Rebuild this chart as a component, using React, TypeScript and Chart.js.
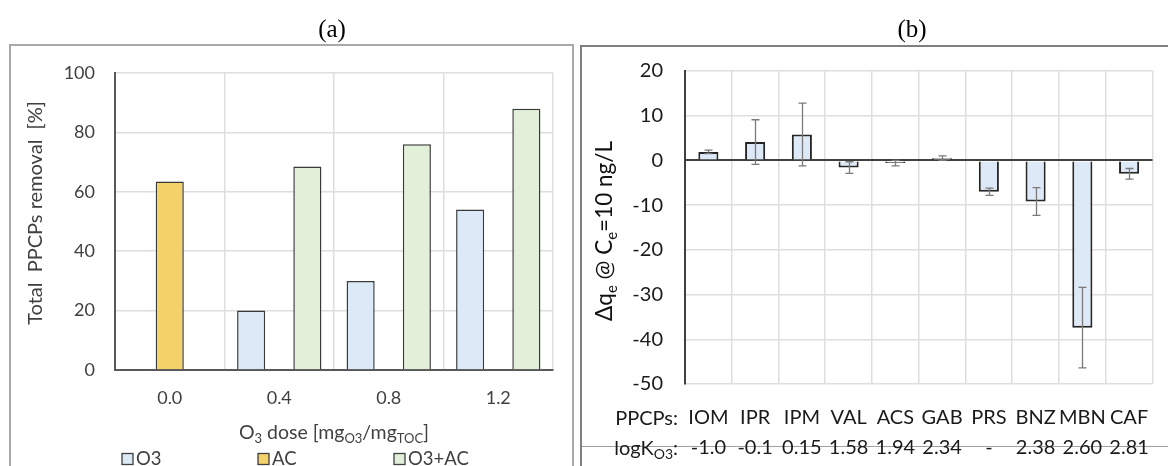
import React, { useEffect, useRef } from "react";
import { Chart, registerables } from "chart.js";
Chart.register(...registerables);

const FONT = "Lato, 'Open Sans', sans-serif";
const SERIF = "'Liberation Serif', 'Times New Roman', serif";

// ---------- Panel (a) data ----------
const doseLabels = ["0.0", "0.4", "0.8", "1.2"];
const o3Removal = [null, 20, 30, 54];
const acRemoval = [63.5, null, null, null];
const o3acRemoval = [null, 68.5, 76, 88];
const seriesNames = ["O3", "AC", "O3+AC"];

// ---------- Panel (b) data ----------
const ppcps = ["IOM", "IPR", "IPM", "VAL", "ACS", "GAB", "PRS", "BNZ", "MBN", "CAF"];
const logKO3 = ["-1.0", "-0.1", "0.15", "1.58", "1.94", "2.34", "-", "2.38", "2.60", "2.81"];
const deltaQ = [1.9, 4.1, 5.8, -1.6, -0.6, 0.5, -7.0, -9.2, -37.4, -3.0];
const deltaQErr = [0.4, 5.0, 7.0, 1.3, 0.6, 0.5, 0.8, 3.1, 9.0, 1.2];

type Part = { t: string; sub?: boolean };

function drawRich(
  ctx: CanvasRenderingContext2D,
  parts: Part[],
  x: number,
  y: number,
  size: number,
  align: "left" | "center" | "right",
  color: string
) {
  const mainF = `${size}px ${FONT}`;
  const subF = `${Math.round(size * 0.68)}px ${FONT}`;
  let total = 0;
  const widths = parts.map((p) => {
    ctx.font = p.sub ? subF : mainF;
    const w = ctx.measureText(p.t).width;
    total += w;
    return w;
  });
  let cx = align === "center" ? x - total / 2 : align === "right" ? x - total : x;
  const base = y + size * 0.35;
  ctx.fillStyle = color;
  ctx.textAlign = "left";
  ctx.textBaseline = "alphabetic";
  parts.forEach((p, i) => {
    ctx.font = p.sub ? subF : mainF;
    ctx.fillText(p.t, cx, p.sub ? base + size * 0.22 : base);
    cx += widths[i];
  });
}

const panelAPlugin = {
  id: "panelA",
  afterDraw(chart: any) {
    const ctx: CanvasRenderingContext2D = chart.ctx;
    ctx.save();
    ctx.font = `25px ${SERIF}`;
    ctx.fillStyle = "#000";
    ctx.textAlign = "center";
    ctx.textBaseline = "middle";
    ctx.fillText("(a)", 332, 30);
    ctx.strokeStyle = "#a9a9a9";
    ctx.lineWidth = 2;
    ctx.strokeRect(10, 45, 563, 440);
    ctx.translate(35, 213);
    ctx.rotate(-Math.PI / 2);
    drawRich(ctx, [{ t: "Total  PPCPs removal  [%]" }], 0, 0, 20, "center", "#404040");
    ctx.setTransform(1, 0, 0, 1, 0, 0);
    const ca = chart.chartArea;
    drawRich(
      ctx,
      [{ t: "O" }, { t: "3", sub: true }, { t: " dose [mg" }, { t: "O3", sub: true }, { t: "/mg" }, { t: "TOC", sub: true }, { t: "]" }],
      (ca.left + ca.right) / 2,
      432,
      19.5,
      "center",
      "#404040"
    );
    chart.data.datasets.forEach((ds: any, i: number) => {
      const bx = 122 + i * 136;
      const by = 459;
      ctx.fillStyle = ds.backgroundColor;
      ctx.fillRect(bx, by - 5.5, 11, 11);
      ctx.strokeStyle = "#404040";
      ctx.lineWidth = 1.3;
      ctx.strokeRect(bx, by - 5.5, 11, 11);
      drawRich(ctx, [{ t: ds.label }], bx + 14, by, 18.5, "left", "#404040");
    });
    ctx.restore();
  },
};

const panelBPlugin = {
  id: "panelB",
  beforeDraw(chart: any) {
    const ctx: CanvasRenderingContext2D = chart.ctx;
    ctx.save();
    ctx.strokeStyle = "#a0a0a0";
    ctx.lineWidth = 1;
    ctx.beginPath();
    ctx.moveTo(3, 446.5);
    ctx.lineTo(590, 446.5);
    ctx.stroke();
    ctx.restore();
  },
  afterDatasetsDraw(chart: any) {
    const ctx: CanvasRenderingContext2D = chart.ctx;
    const meta = chart.getDatasetMeta(0);
    const ys = chart.scales.y;
    ctx.save();
    ctx.strokeStyle = "#7a7a7a";
    ctx.lineWidth = 1.3;
    meta.data.forEach((bar: any, i: number) => {
      const v = deltaQ[i];
      const e = deltaQErr[i];
      const yt = ys.getPixelForValue(v + e);
      const yb = ys.getPixelForValue(v - e);
      const x = Math.round(bar.x) + 0.5;
      ctx.beginPath();
      ctx.moveTo(x, yt);
      ctx.lineTo(x, yb);
      ctx.moveTo(x - 4, yt);
      ctx.lineTo(x + 4, yt);
      ctx.moveTo(x - 4, yb);
      ctx.lineTo(x + 4, yb);
      ctx.stroke();
    });
    ctx.restore();
  },
  afterDraw(chart: any) {
    const ctx: CanvasRenderingContext2D = chart.ctx;
    ctx.save();
    ctx.font = `25px ${SERIF}`;
    ctx.fillStyle = "#000";
    ctx.textAlign = "center";
    ctx.textBaseline = "middle";
    ctx.fillText("(b)", 334, 30);
    ctx.strokeStyle = "#808080";
    ctx.lineWidth = 2;
    ctx.beginPath();
    ctx.moveTo(3, 466);
    ctx.lineTo(3, 46);
    ctx.lineTo(590, 46);
    ctx.stroke();
    ctx.translate(26, 231);
    ctx.rotate(-Math.PI / 2);
    drawRich(
      ctx,
      [{ t: "Δq" }, { t: "e", sub: true }, { t: " @ C" }, { t: "e", sub: true }, { t: "=10 ng/L" }],
      0,
      0,
      22.5,
      "center",
      "#111"
    );
    ctx.setTransform(1, 0, 0, 1, 0, 0);
    drawRich(ctx, [{ t: "PPCPs:" }], 100, 418, 20, "right", "#1a1a1a");
    drawRich(ctx, [{ t: "logK" }, { t: "O3", sub: true }, { t: ":" }], 100, 448, 20, "right", "#1a1a1a");
    ctx.restore();
  },
};

export default function App() {
  const refA = useRef<HTMLCanvasElement>(null);
  const refB = useRef<HTMLCanvasElement>(null);

  useEffect(() => {
    const lightGrid = "#dedede";
    const chartA = new Chart(refA.current as HTMLCanvasElement, {
      type: "bar",
      data: {
        labels: doseLabels,
        datasets: [
          { label: seriesNames[0], data: o3Removal, backgroundColor: "#dce9f6", borderColor: "#3a3a3a", borderWidth: 1.5 },
          { label: seriesNames[1], data: acRemoval, backgroundColor: "#f4d26a", borderColor: "#3a3a3a", borderWidth: 1.5 },
          { label: seriesNames[2], data: o3acRemoval, backgroundColor: "#e2efd9", borderColor: "#3a3a3a", borderWidth: 1.5 },
        ] as any,
      },
      options: {
        responsive: false,
        animation: false,
        layout: { padding: { left: 10, right: 25, top: 73, bottom: 0 } },
        datasets: { bar: { categoryPercentage: 0.77, barPercentage: 1 } },
        plugins: { legend: { display: false }, tooltip: { enabled: false } },
        scales: {
          x: {
            grid: { color: lightGrid, lineWidth: 1.5, drawTicks: false, offset: true },
            border: { color: "#595959", width: 2 },
            ticks: { font: { size: 18, family: FONT }, color: "#404040", padding: 17, maxRotation: 0, minRotation: 0, autoSkip: false },
            afterFit: (s: any) => {
              s.height = 96;
            },
          },
          y: {
            min: 0,
            max: 100,
            ticks: { stepSize: 20, font: { size: 18, family: FONT }, color: "#404040", padding: 20 },
            grid: { color: lightGrid, lineWidth: 1.5, drawTicks: false },
            border: { color: "#595959", width: 2 },
            afterFit: (s: any) => {
              s.width = 105;
            },
          },
        },
      } as any,
      plugins: [panelAPlugin],
    });

    const chartB = new Chart(refB.current as HTMLCanvasElement, {
      type: "bar",
      data: {
        labels: ppcps.map((p, i) => [p, logKO3[i]]),
        datasets: [
          {
            label: "Δqe",
            data: deltaQ,
            backgroundColor: "#dde9f6",
            borderColor: "#262626",
            borderWidth: 2,
            categoryPercentage: 1,
            barPercentage: 0.43,
          },
        ],
      },
      options: {
        responsive: false,
        animation: false,
        layout: { padding: { left: 0, right: 3, top: 71, bottom: 0 } },
        plugins: { legend: { display: false }, tooltip: { enabled: false } },
        scales: {
          x: {
            grid: { color: lightGrid, lineWidth: 1.5, drawTicks: false, offset: true },
            border: { display: false },
            ticks: {
              font: { size: 20, family: FONT, lineHeight: 1.5 },
              color: "#1a1a1a",
              padding: 19,
              maxRotation: 0,
              minRotation: 0,
              autoSkip: false,
            },
            afterFit: (s: any) => {
              s.height = 82;
            },
          },
          y: {
            min: -50,
            max: 20,
            ticks: { stepSize: 10, font: { size: 20, family: FONT }, color: "#1a1a1a", padding: 22 },
            grid: {
              drawTicks: false,
              color: (c: any) => (c.tick && c.tick.value === 0 ? "#404040" : lightGrid),
              lineWidth: (c: any) => (c.tick && c.tick.value === 0 ? 2 : 1.5),
            },
            border: { color: "#404040", width: 2 },
            afterFit: (s: any) => {
              s.width = 107;
            },
          },
        },
      } as any,
      plugins: [panelBPlugin],
    });

    return () => {
      chartA.destroy();
      chartB.destroy();
    };
  }, []);

  return (
    <div style={{ position: "absolute", left: 0, top: 0, width: 1168, height: 466, background: "#fff", overflow: "hidden" }}>
      <canvas ref={refA} width={578} height={466} style={{ position: "absolute", left: 0, top: 0 }} />
      <canvas ref={refB} width={590} height={466} style={{ position: "absolute", left: 578, top: 0 }} />
    </div>
  );
}
